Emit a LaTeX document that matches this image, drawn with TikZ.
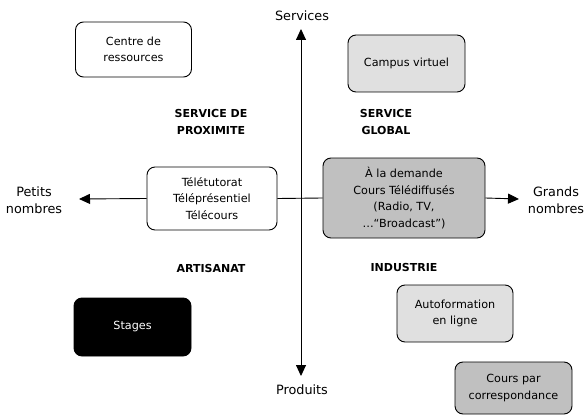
\documentclass[tikz,border=0pt]{standalone}
\usepackage{fontspec}
\setmainfont{DejaVu Sans}
\usetikzlibrary{arrows.meta}
\definecolor{lightg}{HTML}{E0E0E0}
\definecolor{midg}{HTML}{C0C0C0}
\tikzset{
  box/.style={draw=black, line width=0.9pt, rounded corners=8pt, align=center, inner sep=0pt, font=\fontsize{11.2}{16.5}\selectfont},
  lbl/.style={align=center, font=\fontsize{12.8}{17}\selectfont},
  zone/.style={align=center, font=\fontsize{11}{16.5}\selectfont\bfseries},
  axis/.style={line width=0.9pt, -{Triangle[length=11pt,width=10pt]}},
  axis2/.style={line width=0.9pt, {Triangle[length=11pt,width=10pt]}-{Triangle[length=11pt,width=10pt]}},
}
\begin{document}
\begin{tikzpicture}[x=1pt,y=-1pt]
\useasboundingbox (0,0) rectangle (586,417);
% boxes
\node[box, fill=white, minimum width=116pt, minimum height=55pt] (centre) at (133.5,49.5) {Centre de\\ressources};
\node[box, fill=lightg, minimum width=117pt, minimum height=57pt] (campus) at (406.5,63.5) {Campus virtuel};
\node[box, fill=white, minimum width=130pt, minimum height=63pt] (tele) at (212,198.5) {Télétutorat\\Téléprésentiel\\Télécours};
\node[box, fill=midg, minimum width=162pt, minimum height=80pt] (demande) at (404,198) {À la demande\\Cours Télédiffusés\\(Radio, TV,\\…“Broadcast”)};
\node[box, fill=lightg, minimum width=116pt, minimum height=57pt] (auto) at (455,313.5) {Autoformation\\en ligne};
\node[box, fill=midg, minimum width=117pt, minimum height=52pt] (corresp) at (513.5,388) {Cours par\\correspondance};
\node[box, fill=black, text=white, minimum width=117pt, minimum height=58pt] (stages) at (132.5,327) {Stages};
% zone labels
\node[zone] (prox) at (211,122) {SERVICE DE\\PROXIMITE};
\node[zone] (glob) at (386,122) {SERVICE\\GLOBAL};
\node[zone] (artis) at (211,268) {ARTISANAT};
\node[zone] (indus) at (404,267) {INDUSTRIE};
% axis labels
\node[lbl] (services) at (302,16) {Services};
\node[lbl] (produits) at (302,390) {Produits};
\node[lbl] (petits) at (34,200) {Petits\\nombres};
\node[lbl] (grands) at (556,200) {Grands\\nombres};
% axes
\coordinate (top) at (301,29);
\coordinate (bot) at (301,376);
\coordinate (left) at (79,199);
\coordinate (right) at (519,199);
\draw[axis2] (bot) -- (top);
\draw[axis] (tele.west) -- (left);
\draw[line width=0.9pt] (tele.east) -- (demande.west);
\draw[axis] (demande.east) -- (right);
\end{tikzpicture}
\end{document}
